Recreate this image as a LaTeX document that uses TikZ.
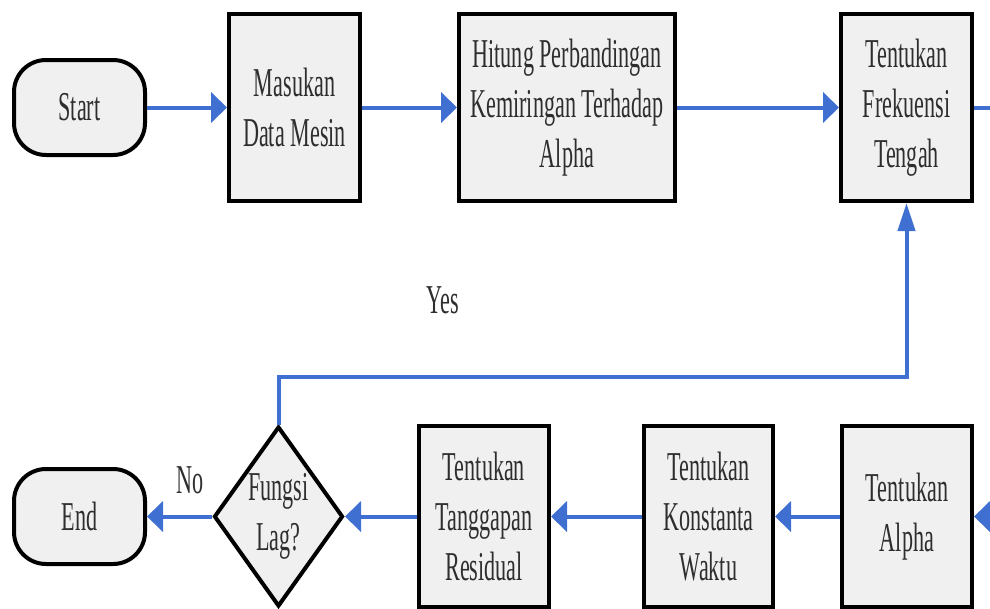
\documentclass[tikz,border=0pt]{standalone}
\usepackage{fontspec}
\setmainfont{Liberation Serif}
\newfontfamily\flowfont{Liberation Serif}[FakeStretch=0.54]
\definecolor{FlowBlue}{HTML}{3F6FD1}
\definecolor{BoxFill}{HTML}{F0F0F0}
\definecolor{TextGray}{HTML}{2E2E2E}
\usetikzlibrary{arrows.meta,positioning,shapes.geometric}

\begin{document}
\begin{tikzpicture}[x=1pt, y=-1pt,
    every node/.style={font=\flowfont\fontsize{41pt}{50pt}\selectfont, text=TextGray},
    block/.style={rectangle, draw=black, fill=BoxFill, line width=4pt, align=center, inner sep=0pt, minimum width=131pt, minimum height=187pt},
    term/.style={rectangle, rounded corners=32pt, draw=black, fill=BoxFill, line width=4pt, inner sep=0pt, minimum width=131pt, minimum height=95pt},
    decision/.style={diamond, aspect=0.72, draw=black, fill=BoxFill, line width=4pt, align=center, inner sep=0pt, minimum width=129pt, minimum height=180pt},
    harrow/.style={-{Triangle[length=16pt,width=30pt]}, line width=4pt, FlowBlue},
    varrow/.style={-{Triangle[length=28pt,width=17pt]}, line width=4pt, FlowBlue},
]
    \useasboundingbox (0,0) rectangle (990,608);
    \clip (0,0) rectangle (990,608);

    % top row, left to right
    \node[term] (start) at (79.5,107.5) {Start};
    \node[block, right=80pt of start] (masukan) {Masukan\\Data Mesin};
    \node[block, minimum width=216pt, right=95pt of masukan] (hitung) {Hitung Perbandingan\\Kemiringan Terhadap\\Alpha};
    \node[block, right=162pt of hitung] (frek) {Tentukan\\Frekuensi\\Tengah};
    \coordinate (outtop) at (996,107.5);

    % bottom row, right to left
    \node[term] (stop) at (79.5,516.5) {End};
    \node[decision, right=65pt of stop] (lag) {Fungsi\\Lag?};
    \node[block, minimum width=130pt, minimum height=181pt, right=72pt of lag] (resid) {Tentukan\\Tanggapan\\Residual};
    \node[block, minimum width=129pt, minimum height=181pt, right=91pt of resid] (waktu) {Tentukan\\Konstanta\\Waktu};
    \node[block, minimum width=130pt, minimum height=181pt, right=65pt of waktu] (alpha) {Tentukan\\Alpha};
    \coordinate (inbot) at (996,516.5);

    \draw[harrow] (start) -- (masukan);
    \draw[harrow] (masukan) -- (hitung);
    \draw[harrow] (hitung) -- (frek);
    \draw[line width=4pt, FlowBlue] (frek) -- (outtop);
    \draw[harrow] (inbot) -- (alpha);
    \draw[harrow] (alpha) -- (waktu);
    \draw[harrow] (waktu) -- (resid);
    \draw[harrow] (resid) -- (lag);
    \draw[harrow] (lag) -- (stop);

    % loop back
    \draw[varrow] (lag.north) -- ++(0,-48) -| (frek.south);
    \node (yes) at (443,300) {Yes};
    \node (no) at (190,480) {No};
\end{tikzpicture}
\end{document}
